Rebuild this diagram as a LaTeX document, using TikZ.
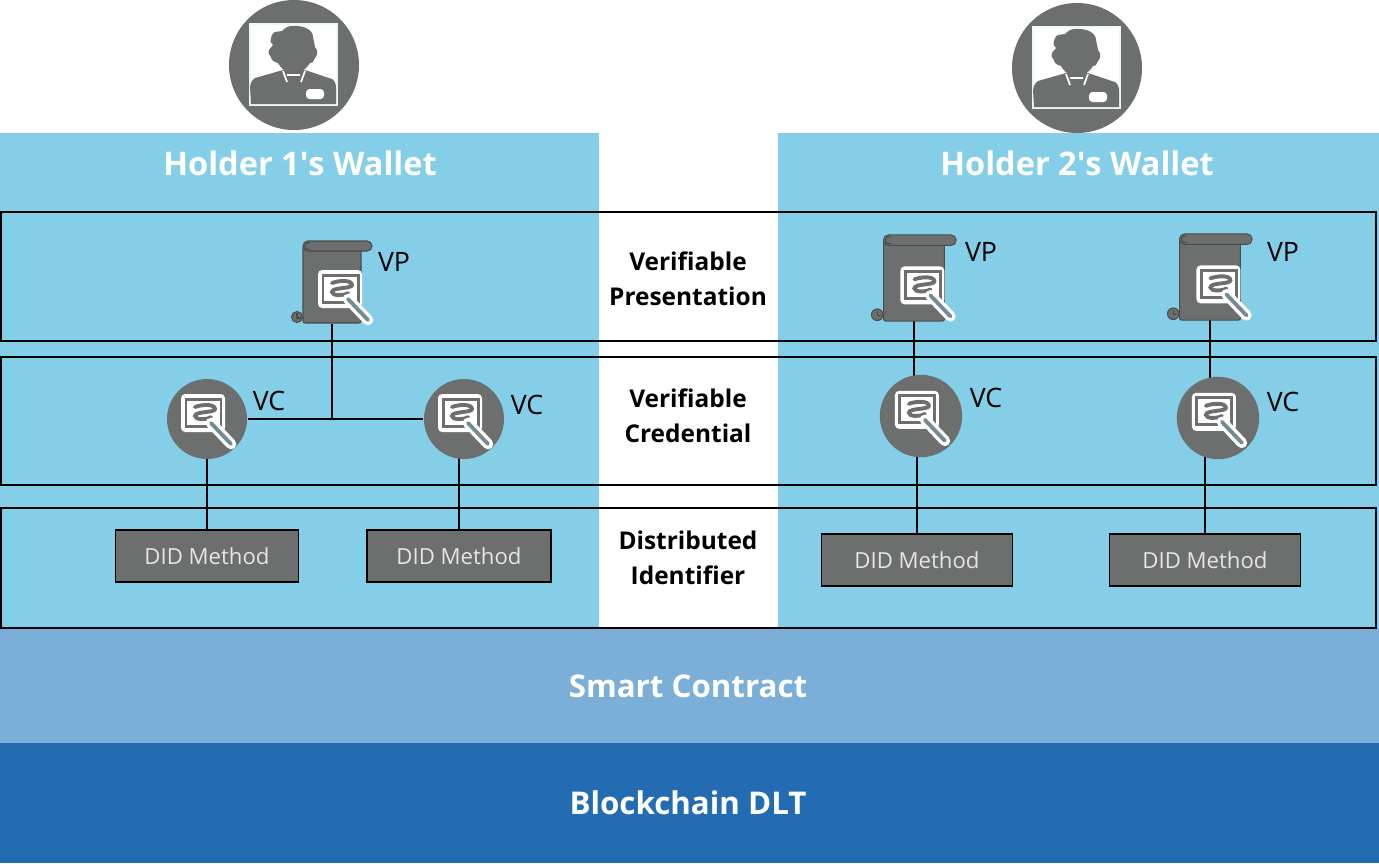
\documentclass[tikz,border=0pt]{standalone}
\usepackage{xcolor}
\usepackage{fontspec}
\setmainfont{Open Sans}
\usepackage{tikz}
\usetikzlibrary{calc,positioning}
\definecolor{panel}{HTML}{85CEE8}
\definecolor{contract}{HTML}{7BAFD8}
\definecolor{ledger}{HTML}{236CB2}
\definecolor{icon}{HTML}{6D6E6E}
\tikzset{
  banner/.style={text=white,font=\fontsize{8.9}{11}\selectfont\bfseries},
  wallet/.style={text=white,font=\fontsize{9.25}{11}\selectfont\bfseries},
  rowname/.style={text=black,align=center,font=\fontsize{6.95}{10}\selectfont\bfseries},
  tag/.style={text=black,font=\fontsize{7.6}{9}\selectfont},
  didbox/.style={draw=black,line width=0.5pt,fill=icon,text=white!90!black,inner sep=0pt,font=\fontsize{6.3}{8}\selectfont},
  vcspot/.style={circle,inner sep=0pt,minimum size=0.8cm},
  vpspot/.style={rectangle,inner sep=0pt,minimum width=0.58cm,minimum height=0.82cm},
  wire/.style={draw=black,line width=0.57pt},
  seal/.pic={
    \fill[white,rounded corners=1.2pt] (-22,-19) rectangle (22,19);
    \draw[icon,line width=0.85pt] (-17,13) -- (-17,-14) -- (18,-14) -- (18,13) -- cycle;
    \draw[icon,line width=1.1pt,line cap=round] (-8,-6) .. controls (0,-9) and (12,-9) .. (12,-4)
      .. controls (12,0) and (-8,-2) .. (-8,3) .. controls (-8,7) and (4,7) .. (8,4);
    \draw[white,line width=3pt,line cap=round] (8,10) -- (28,31);
    \draw[icon!70!panel,line width=1.1pt,line cap=round] (8,10) -- (28,31);
  },
  vcicon/.pic={
    \fill[icon] (0,0) circle (40);
    \pic at (-4,-6) {seal};
  },
  vpicon/.pic={
    \filldraw[icon,draw=black!70,line width=0.3pt,rounded corners=0.6pt] (-29,-36) -- (-29,41) -- (29,41) -- (29,-36) -- cycle;
    \filldraw[icon,draw=black!70,line width=0.3pt,rounded corners=1.4pt] (-29,-41) rectangle (40,-31);
    \filldraw[icon,draw=black!70,line width=0.3pt] (-35,35) circle (5.5);
    \draw[black!70,line width=0.3pt] (-22,-39) arc (-60:-300:3.5);
    \draw[black!70,line width=0.3pt] (-35,31) -- (-35,36) -- (-31,36);
    \pic at (8,7) {seal};
  },
  holder/.pic={
    \fill[icon] (0,0) circle (65);
    \fill[white!85!panel] (-45,-42) rectangle (44,41);
    \fill[white] (-43,-40) rectangle (42,39);
    \fill[icon] (-43,39) -- (-44,22) .. controls (-43,16) and (-41,14) .. (-39,13) -- (-11,5)
      -- (11,5) -- (38,14) .. controls (41,16) and (42,19) .. (42,23) -- (42,39) -- cycle;
    \fill[icon] (-2,-39) .. controls (10,-40) and (19,-35) .. (19,-28)
      -- (21,-18) .. controls (24,-15) and (24,-10) .. (21,-7)
      .. controls (19,-3) and (18,-1) .. (16,-2) .. controls (12,4) and (9,6) .. (6,6)
      -- (-7,6) .. controls (-10,6) and (-13,3) .. (-16,-2)
      .. controls (-20,-3) and (-23,-5) .. (-23,-8) .. controls (-26,-11) and (-26,-14) .. (-25,-15)
      -- (-21,-20) .. controls (-24,-23) and (-24,-25) .. (-23,-27)
      .. controls (-22,-31) and (-20,-33) .. (-19,-33) -- (-12,-34)
      .. controls (-9,-37) and (-6,-39) .. (-2,-39) -- cycle;
    \draw[white,line width=0.5pt] (-11,6) -- (-7,17) (-7,10) -- (6,10) (11,6) -- (7,17);
    \fill[white,rounded corners=1pt] (12,24) rectangle (30,34);
  }
}
\begin{document}
\begin{tikzpicture}[x=0.01cm,y=-0.01cm,line cap=butt]
  \useasboundingbox (0,0) rectangle (1379,863);
  \fill[white] (0,0) rectangle (1379,863);
  \fill[panel] (0,133) rectangle (599,628);
  \fill[panel] (778,133) rectangle (1379,628);
  \fill[contract] (0,628) rectangle (1379,743);
  \fill[ledger] (0,743) rectangle (1379,863);
  \foreach \top/\bottom in {212/341,357/485,508/628}
    \draw[black,line width=0.57pt] (1,\top) rectangle (1376,\bottom);
  \node[wallet] (walleta) at (300,163) {Holder 1\textquotesingle s Wallet};
  \node[wallet] (walletb) at (1077,163) {Holder 2\textquotesingle s Wallet};
  \node[banner] (contract) at (688,686) {Smart Contract};
  \node[banner] (chain) at (688,803) {Blockchain DLT};
  \node[rowname] (present) at (688,279) {Verifiable\\Presentation};
  \node[rowname] (credential) at (688,416) {Verifiable\\Credential};
  \node[rowname] (identifier) at (688,558) {Distributed\\Identifier};
  \node[vpspot] (vpa) at (332,282) {};
  \node[vpspot] (vpb) at (914,278) {};
  \node[vpspot] (vpc) at (1210,277) {};
  \node[vcspot] (vca) at (207,419) {};
  \node[vcspot] (vcb) at (464,419) {};
  \node[vcspot] (vcc) at (921,416) {};
  \node[vcspot] (vcd) at (1218,418) {};
  \node[didbox,minimum width=1.83cm,minimum height=0.52cm] (dida) at (207,556) {DID Method};
  \node[didbox,minimum width=1.84cm,minimum height=0.52cm] (didb) at (459,556) {DID Method};
  \node[didbox,minimum width=1.91cm,minimum height=0.52cm] (didc) at (917,560) {DID Method};
  \node[didbox,minimum width=1.91cm,minimum height=0.52cm] (didd) at (1205,560) {DID Method};
  \coordinate (join) at (vpa |- vca);
  \draw[wire] (vpa.south) -- (join);
  \draw[wire] (vca) -- (vcb);
  \draw[wire] (vpb.south) -- (vpb.south |- vcc);
  \draw[wire] (vpc.south) -- (vpc.south |- vcd);
  \draw[wire] (dida.north |- vca) -- (dida.north);
  \draw[wire] (didb.north |- vcb) -- (didb.north);
  \draw[wire] (didc.north |- vcc) -- (didc.north);
  \draw[wire] (didd.north |- vcd) -- (didd.north);
  \pic at (294,65) {holder};
  \pic at (1077,68) {holder};
  \pic at (vpa) {vpicon};
  \pic[scale=1.05] at (vpb) {vpicon};
  \pic[scale=1.05] at (vpc) {vpicon};
  \pic at (vca) {vcicon};
  \pic at (vcb) {vcicon};
  \pic[scale=1.03] at (vcc) {vcicon};
  \pic[scale=1.03] at (vcd) {vcicon};
  \node[tag] (vpta) at (394,262) {VP};
  \node[tag] (vptb) at (981,252) {VP};
  \node[tag] (vptc) at (1283,252) {VP};
  \node[tag] (vcta) at (269,401) {VC};
  \node[tag] (vctb) at (527,405) {VC};
  \node[tag] (vctc) at (986,398) {VC};
  \node[tag] (vctd) at (1283,402) {VC};
\end{tikzpicture}
\end{document}
